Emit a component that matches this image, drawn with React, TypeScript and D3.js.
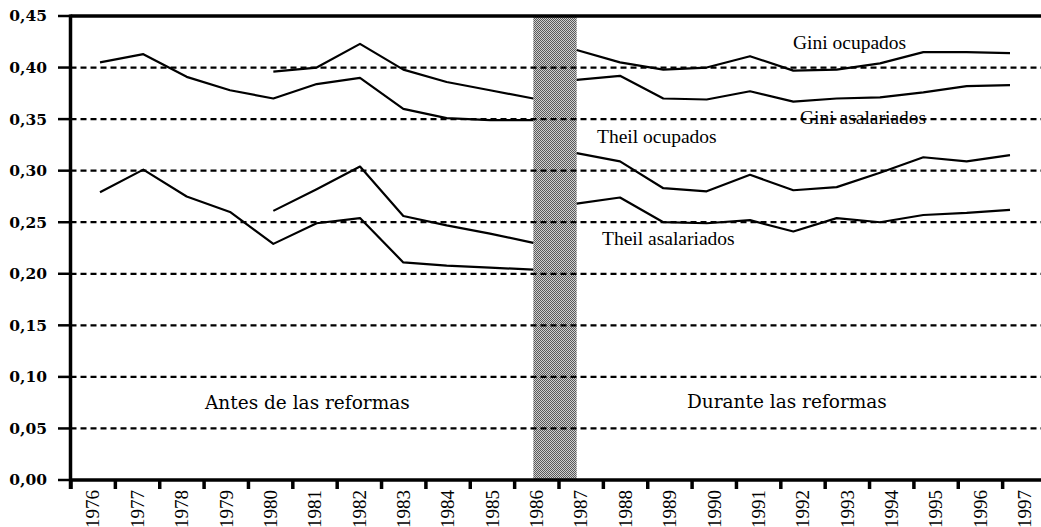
import React from "react";
import * as d3 from "d3";

const years = ["1976","1977","1978","1979","1980","1981","1982","1983","1984","1985","1986","1987","1988","1989","1990","1991","1992","1993","1994","1995","1996","1997"];
const beforeYears = ["1976","1977","1978","1979","1980","1981","1982","1983","1984","1985","1986"];
const duringYears = ["1987","1988","1989","1990","1991","1992","1993","1994","1995","1996","1997"];

const giniOcupados = [null,null,null,null,0.396,0.400,0.423,0.398,0.386,0.378,0.370,0.417,0.405,0.398,0.400,0.411,0.397,0.398,0.404,0.415,0.415,0.414];
const giniAsalariados = [0.405,0.413,0.391,0.378,0.370,0.384,0.390,0.360,0.351,0.349,0.349,0.388,0.392,0.370,0.369,0.377,0.367,0.370,0.371,0.376,0.382,0.383];
const theilOcupados = [null,null,null,null,0.261,0.282,0.304,0.256,0.247,0.239,0.230,0.317,0.309,0.283,0.280,0.296,0.281,0.284,0.298,0.313,0.309,0.315];
const theilAsalariados = [0.279,0.301,0.275,0.260,0.229,0.249,0.254,0.211,0.208,0.206,0.204,0.268,0.274,0.250,0.249,0.252,0.241,0.254,0.250,0.257,0.259,0.262];

const yTicks = [0, 0.05, 0.10, 0.15, 0.20, 0.25, 0.30, 0.35, 0.40, 0.45];
const gridValues = [0.05, 0.10, 0.15, 0.20, 0.25, 0.30, 0.35, 0.40];
const seriesLabels = ["Gini ocupados", "Gini asalariados", "Theil ocupados", "Theil asalariados"];
const periodLabels = ["Antes de las reformas", "Durante las reformas"];

const W = 1041, H = 527;
const axisX = 70.5, axisY = 480, topY = 16;

export default function App() {
  const y = d3.scaleLinear().domain([0, 0.45]).range([axisY, topY]);
  const xPt = d3.scalePoint<string>().domain(years).range([100, 1010]);
  const xBand = d3.scaleBand<string>().domain(years).range([71, 1047]);

  const series = [giniOcupados, giniAsalariados, theilOcupados, theilAsalariados];
  const line = d3.line<{ yr: string; v: number | null }>()
    .defined(d => d.v != null)
    .x(d => xPt(d.yr) as number)
    .y(d => y(d.v as number));

  const paths: string[] = [];
  series.forEach(s => {
    [beforeYears, duringYears].forEach(group => {
      const pts = group.map(yr => ({ yr, v: s[years.indexOf(yr)] }));
      paths.push(line(pts) || "");
    });
  });

  const barX0 = xPt("1986") as number;
  const barX1 = xPt("1987") as number;

  const step = xBand.step();
  const tickXs = years.map((yr) => xBand(yr) as number);

  const serif = "'Liberation Serif', 'Times New Roman', serif";
  const wide = "'DejaVu Serif', serif";

  const labelPos = [
    { x: 793, y: 49 },
    { x: 800, y: 124 },
    { x: 597, y: 143 },
    { x: 602, y: 245 },
  ];
  const periodPos = [
    { x: 205, y: 409 },
    { x: 687, y: 408 },
  ];

  return (
    <svg width={W} height={H} style={{ position: "absolute", left: 0, top: 0, background: "#fff" }}>
      <defs>
        <pattern id="chk" width="2" height="2" patternUnits="userSpaceOnUse">
          <rect width="2" height="2" fill="#cfcfcf" shapeRendering="crispEdges" />
          <rect width="1" height="1" fill="#5a5a5a" shapeRendering="crispEdges" />
          <rect x="1" y="1" width="1" height="1" fill="#5a5a5a" shapeRendering="crispEdges" />
        </pattern>
      </defs>
      <rect x={0} y={0} width={W} height={H} fill="#fff" />
      {/* shaded transition period */}
      <rect x={barX0} y={y(0.45)} width={barX1 - barX0} height={y(0) - y(0.45)} fill="url(#chk)" />
      {/* gridlines */}
      {gridValues.map(v => (
        <line key={v} x1={axisX} x2={W} y1={y(v)} y2={y(v)} stroke="#000" strokeWidth={2.2} strokeDasharray="6,4" />
      ))}
      {/* series lines */}
      {paths.map((p, i) => (
        <path key={i} d={p} fill="none" stroke="#000" strokeWidth={2.2} strokeLinejoin="round" />
      ))}
      {/* top border */}
      <line x1={axisX} x2={W} y1={y(0.45)} y2={y(0.45)} stroke="#000" strokeWidth={3.5} />
      {/* y axis */}
      <line x1={axisX} x2={axisX} y1={y(0.45) - 1.5} y2={axisY + 9} stroke="#000" strokeWidth={3.5} />
      {yTicks.map(v => (
        <g key={v}>
          <line x1={58} x2={axisX} y1={y(v)} y2={y(v)} stroke="#000" strokeWidth={2.5} />
          <text x={47} y={y(v)} dy="0.35em" textAnchor="end" fontFamily={wide} fontWeight="bold" fontSize={15.5}>
            {v.toFixed(2).replace(".", ",")}
          </text>
        </g>
      ))}
      {/* x axis */}
      <line x1={axisX} x2={W} y1={axisY} y2={axisY} stroke="#000" strokeWidth={3.5} />
      {tickXs.map((tx, i) => (
        <line key={i} x1={tx} x2={tx} y1={axisY} y2={axisY + 9} stroke="#000" strokeWidth={3.5} />
      ))}
      {years.map(yr => {
        const cx = (xBand(yr) as number) + step / 2;
        return (
          <text key={yr} transform={`translate(${cx},${axisY + 10}) rotate(-90)`} textAnchor="end" dy="0.33em"
            fontFamily={serif} fontSize={19}>{yr}</text>
        );
      })}
      {/* series labels */}
      {seriesLabels.map((t, i) => (
        <text key={t} x={labelPos[i].x} y={labelPos[i].y} fontFamily={serif} fontSize={19.5}>{t}</text>
      ))}
      {periodLabels.map((t, i) => (
        <text key={t} x={periodPos[i].x} y={periodPos[i].y} fontFamily={wide} fontSize={18.5}>{t}</text>
      ))}
    </svg>
  );
}
